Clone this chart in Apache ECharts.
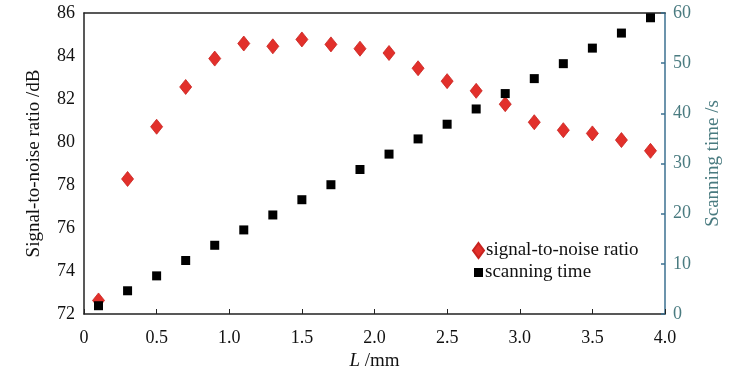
<!DOCTYPE html>
<html>
<head>
<meta charset="utf-8">
<script src="https://cdn.jsdelivr.net/npm/echarts@6/dist/echarts.min.js"></script>
<style>
  html, body { margin: 0; padding: 0; background: #fff; }
  #chart { width: 750px; height: 366px; }
</style>
</head>
<body>
<div id="chart"></div>
<script>
// sampling distance L (mm)
const lValues = [0.1, 0.3, 0.5, 0.7, 0.9, 1.1, 1.3, 1.5, 1.7, 1.9, 2.1, 2.3, 2.5, 2.7, 2.9, 3.1, 3.3, 3.5, 3.7, 3.9]
// signal-to-noise ratio (dB)
const snrValues = [72.63, 78.28, 80.71, 82.56, 83.88, 84.58, 84.45, 84.77, 84.54, 84.34, 84.14, 83.43, 82.83, 82.38, 81.76, 80.92, 80.55, 80.40, 80.09, 79.59]
// scanning time (s)
const timeValues = [1.65, 4.63, 7.6, 10.66, 13.7, 16.76, 19.74, 22.78, 25.77, 28.8, 31.87, 34.9, 37.83, 40.87, 43.94, 46.92, 49.9, 53.0, 56.0, 59.05]
const seriesNames = ['signal-to-noise ratio', 'scanning time']

const font = 'Liberation Serif'
const rightColor = '#3b7191'
const rightText = '#4a7b80'

const chart = echarts.init(document.getElementById('chart'))

const legendText = { fontFamily: font, fontSize: 19, color: '#111', padding: [0, 0, 0, -3] }

const option = {
  backgroundColor: '#fff',
  animation: false,
  textStyle: { fontFamily: font },
  grid: { left: 84, right: 85, top: 13, bottom: 52, containLabel: false, outerBoundsMode: 'none' },
  legend: [{
    left: 467,
    top: 236,
    itemWidth: 11,
    itemHeight: 15,
    textStyle: legendText,
    data: [{ name: seriesNames[0], icon: 'diamond' }]
  }, {
    left: 469,
    top: 258,
    itemWidth: 9,
    itemHeight: 9,
    textStyle: legendText,
    data: [{ name: seriesNames[1], icon: 'rect' }]
  }],
  xAxis: [{
    type: 'value',
    min: 0,
    max: 4,
    interval: 0.5,
    name: '{i|L} /mm',
    nameLocation: 'middle',
    nameGap: 31,
    nameTextStyle: {
      fontFamily: font,
      fontSize: 19,
      color: '#111',
      rich: { i: { fontStyle: 'italic', fontFamily: font, fontSize: 19, color: '#111' } }
    },
    axisLine: { onZero: false, lineStyle: { color: '#222', width: 1.5 } },
    axisTick: { inside: true, length: 5, lineStyle: { color: '#222' } },
    axisLabel: {
      margin: 15,
      fontFamily: font,
      fontSize: 18,
      color: '#111',
      formatter: (v) => (v === 0 ? '0' : v.toFixed(1))
    },
    splitLine: { show: false }
  }, {
    type: 'value',
    position: 'top',
    min: 0,
    max: 4,
    axisLine: { show: true, onZero: false, lineStyle: { color: '#222', width: 1.5 } },
    axisTick: { show: false },
    axisLabel: { show: false },
    splitLine: { show: false }
  }],
  yAxis: [{
    type: 'value',
    min: 72,
    max: 86,
    interval: 2,
    name: 'Signal-to-noise ratio /dB',
    nameLocation: 'middle',
    nameGap: 40,
    nameTextStyle: { fontFamily: font, fontSize: 19, color: '#111' },
    axisLine: { show: true, onZero: false, lineStyle: { color: '#222', width: 1.5 } },
    axisTick: { show: false },
    axisLabel: { margin: 9, fontFamily: font, fontSize: 18, color: '#111' },
    splitLine: { show: false }
  }, {
    type: 'value',
    min: 0,
    max: 60,
    interval: 10,
    position: 'right',
    name: 'Scanning time /s',
    nameLocation: 'middle',
    nameGap: 39,
    nameRotate: 90,
    nameTextStyle: { fontFamily: font, fontSize: 19, color: rightText },
    axisLine: { show: true, onZero: false, lineStyle: { color: rightColor, width: 1.5 } },
    axisTick: { show: true, inside: true, length: 4, lineStyle: { color: rightColor, width: 1.5 } },
    axisLabel: { margin: 8, fontFamily: font, fontSize: 18, color: rightText },
    splitLine: { show: false }
  }],
  series: [{
    name: seriesNames[0],
    type: 'scatter',
    yAxisIndex: 0,
    symbol: 'diamond',
    symbolSize: [12, 15],
    itemStyle: { color: '#e2302b', borderColor: '#c8231f', borderWidth: 0.8, opacity: 1 },
    z: 2,
    data: lValues.map((l, i) => [l, snrValues[i]])
  }, {
    name: seriesNames[1],
    type: 'scatter',
    yAxisIndex: 1,
    symbol: 'rect',
    symbolSize: 9,
    itemStyle: { color: '#000', opacity: 1 },
    z: 3,
    data: lValues.map((l, i) => [l, timeValues[i]])
  }]
}

chart.setOption(option)
</script>
</body>
</html>
